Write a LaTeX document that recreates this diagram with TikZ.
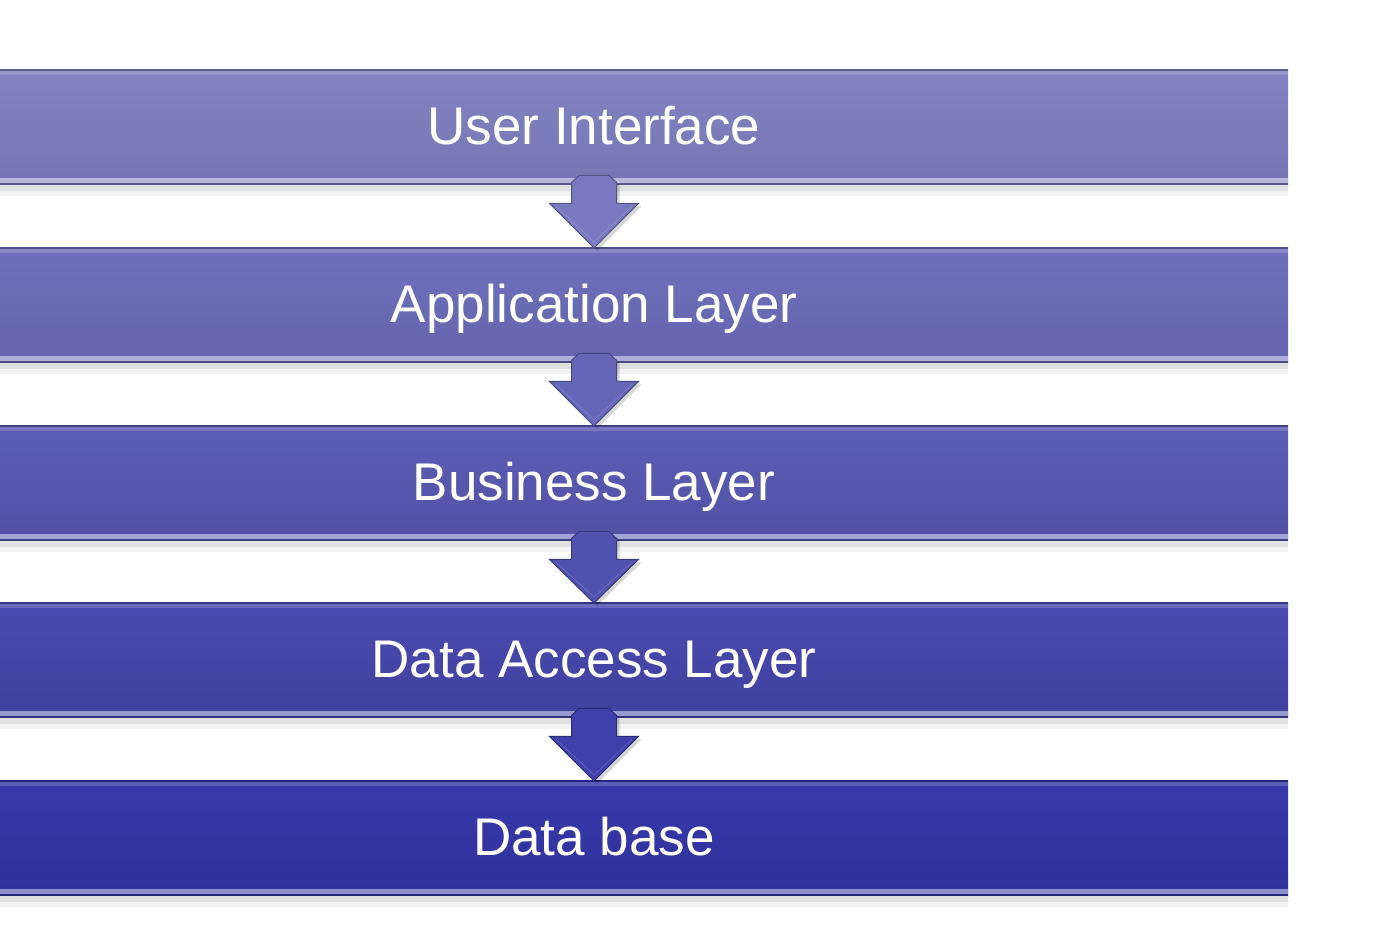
\documentclass[tikz,border=0pt]{standalone}
\usepackage{fontspec}
\setmainfont{Liberation Sans}
\usetikzlibrary{calc}

% layer colours, light at the top to deep blue at the bottom
\definecolor{layerA}{RGB}{126,127,192}
\definecolor{layerB}{RGB}{107,108,186}
\definecolor{layerC}{RGB}{87,88,178}
\definecolor{layerD}{RGB}{68,69,171}
\definecolor{layerE}{RGB}{50,52,168}

\tikzset{
  layerbar/.style={draw=none, rectangle, anchor=north west, inner sep=0pt,
    minimum width=1288pt, minimum height=116pt,
    top color=#1!97!white, bottom color=#1!93!black},
  layertext/.style={text=white, anchor=base, inner sep=0pt,
    font=\fontsize{53}{57}\selectfont},
  arrowbody/.style={fill=#1, draw=#1!70!black, line width=1pt, line join=miter},
}

% glossy trim of one layer bar: edge lines, low highlight and drop shadow
\newcommand{\bartrim}[2]{%
  \fill[black!12] ($(#1.south west)$) rectangle ($(#1.south east)+(0,6)$);
  \fill[black!5] ($(#1.south west)+(0,6)$) rectangle ($(#1.south east)+(0,11)$);
  \fill[#2!55!white] ($(#1.south west)+(0,-7)$) rectangle ($(#1.south east)+(0,-2)$);
  \fill[#2!70!black] ($(#1.south west)+(0,-2)$) rectangle ($(#1.south east)$);
  \fill[#2!75!black] ($(#1.north west)$) rectangle ($(#1.north east)+(0,2)$);
  \fill[#2!80!white] ($(#1.north west)+(0,2)$) rectangle ($(#1.north east)+(0,6)$);
}

% block arrow from the bottom of one bar to the top of the next
\newcommand{\layerarrow}[3]{%
  \coordinate (as) at ($(#1.south west)+(594,0)$);
  \coordinate (ae) at ($(#2.north west)+(594,0)$);
  \fill[black, opacity=0.16]
    ($(as)+(-19.5,0)$) -- ($(as)+(-12,-7)$) -- ($(as)+(18,-7)$)
    -- ($(as)+(25.5,0)$) -- ($(as)+(25.5,21)$) -- ($(as)+(47.5,21)$)
    -- ($(ae)+(3,4)$) -- ($(as)+(-41.5,21)$) -- ($(as)+(-19.5,21)$) -- cycle;
  \filldraw[arrowbody=#3]
    ($(as)+(-22.5,-3)$) -- ($(as)+(-15,-10)$) -- ($(as)+(15,-10)$)
    -- ($(as)+(22.5,-3)$) -- ($(as)+(22.5,18)$) -- ($(as)+(44.5,18)$)
    -- ($(ae)+(0,1)$) -- ($(as)+(-44.5,18)$) -- ($(as)+(-22.5,18)$) -- cycle;
  \draw[#3!75!white, line width=0.8pt, opacity=0.6]
    ($(as)+(-38,21)$) -- ($(ae)+(0,-5)$) -- ($(as)+(38,21)$);
}

\begin{document}
\begin{tikzpicture}[x=1pt, y=-1pt]
\useasboundingbox (0,0) rectangle (1388,935);
\fill[white] (0,0) rectangle (1388,935);

% the five layer bars
\node[layerbar=layerA] (b1) at (0,69) {};
\node[layerbar=layerB] (b2) at (0,247) {};
\node[layerbar=layerC] (b3) at (0,425) {};
\node[layerbar=layerD] (b4) at (0,602) {};
\node[layerbar=layerE] (b5) at (0,780) {};

\bartrim{b1}{layerA}
\bartrim{b2}{layerB}
\bartrim{b3}{layerC}
\bartrim{b4}{layerD}
\bartrim{b5}{layerE}

% down arrows between neighbouring layers
\layerarrow{b1}{b2}{layerA!70!layerB}
\layerarrow{b2}{b3}{layerB!70!layerC}
\layerarrow{b3}{b4}{layerC!70!layerD}
\layerarrow{b4}{b5}{layerD!70!layerE}

% layer captions
\node[layertext] (t1) at ($(b1.west)+(594,17)$) {User Interface};
\node[layertext] (t2) at ($(b2.west)+(594,17)$) {Application Layer};
\node[layertext] (t3) at ($(b3.west)+(594,17)$) {Business Layer};
\node[layertext] (t4) at ($(b4.west)+(594,17)$) {Data Access Layer};
\node[layertext] (t5) at ($(b5.west)+(594,17)$) {Data base};
\end{tikzpicture}
\end{document}
